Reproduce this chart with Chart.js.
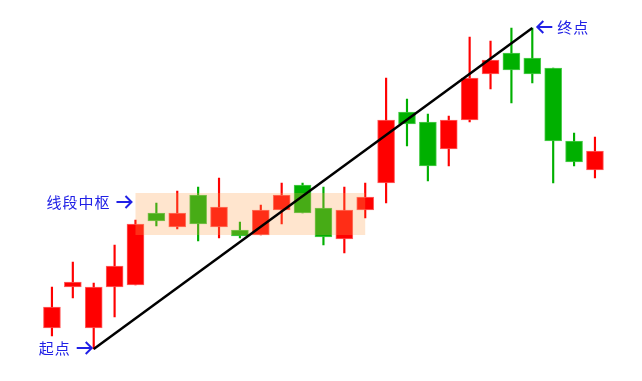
<!DOCTYPE html>
<html>
<head>
<meta charset="utf-8">
<script src="https://cdn.jsdelivr.net/npm/chart.js@4"></script>
<style>
  html, body { margin: 0; padding: 0; background: #fff; }
  canvas { display: block; }
</style>
</head>
<body>
<canvas id="kline" width="642" height="381"></canvas>
<script>
// K-line values (arbitrary price units)
const opens  = [7.2, 11.3, 7.2, 11.3, 11.5, 18.7, 17.3, 20.5, 17.3, 17.0, 16.5, 19.0, 21.5, 19.2, 16.1, 19.0, 21.7, 28.8, 27.8, 25.1, 28.0, 32.6, 34.7, 34.2, 33.2, 25.9, 23.0];
const closes = [9.3, 11.8, 11.3, 13.4, 17.6, 17.9, 18.7, 17.6, 19.3, 16.4, 19.0, 20.5, 18.7, 16.3, 19.0, 20.3, 28.0, 27.6, 23.4, 28.0, 32.2, 34.0, 33.0, 32.6, 25.9, 23.8, 24.9];
const highs  = [11.3, 13.8, 11.7, 15.5, 18.0, 19.7, 20.9, 21.3, 22.2, 17.8, 19.5, 21.7, 21.7, 21.3, 21.3, 21.7, 32.2, 30.1, 28.6, 28.4, 36.3, 35.9, 37.2, 37.2, 33.2, 26.7, 26.3];
const lows   = [6.4, 10.2, 5.1, 8.3, 11.5, 17.4, 17.1, 15.9, 16.2, 16.2, 16.5, 17.6, 18.7, 15.5, 14.7, 18.2, 19.7, 25.4, 21.9, 23.4, 27.8, 31.1, 29.7, 31.7, 21.7, 23.4, 22.2];
const labels = opens.map((_, i) => String(i + 1));

// segment: from the low of bar 3 to the high of bar 24
const segStart = 2;
const segEnd = 23;
// zhongshu band (bars 5..16)
const zsFrom = 4;
const zsTo = 15;
const zsHigh = 20.7;
const zsLow = 16.5;

const UP = "#ff0000";
const DOWN = "#00b000";
const colors = opens.map((o, i) => (closes[i] >= o ? UP : DOWN));
const edgeColors = opens.map((o, i) => (closes[i] >= o ? "rgba(255,80,80,0.9)" : "rgba(60,200,60,0.9)"));

const segLine = labels.map(() => null);
segLine[segStart] = lows[segStart];
segLine[segEnd] = highs[segEnd];

const TEXT_FONT = '15px "Noto Sans CJK SC", "Noto Sans", sans-serif';
const BLUE = "#2020e6";
const ARROW_W = 15;

function arrow(ctx, x, y, dir) {
  // x is the tip
  const tail = x - dir * ARROW_W;
  ctx.beginPath();
  ctx.moveTo(tail, y);
  ctx.lineTo(x - dir * 1, y);
  ctx.moveTo(x - dir * 6, y - 6);
  ctx.lineTo(x, y);
  ctx.lineTo(x - dir * 6, y + 6);
  ctx.stroke();
}

function label(ctx, text, x, y, side) {
  ctx.font = TEXT_FONT;
  ctx.letterSpacing = "1px";
  if (side === "left") {
    arrow(ctx, x, y, 1);
    ctx.textAlign = "right";
    ctx.fillText(text, x - ARROW_W - 6, y);
  } else {
    arrow(ctx, x, y, -1);
    ctx.textAlign = "left";
    ctx.fillText(text, x + ARROW_W + 5, y);
  }
  ctx.letterSpacing = "0px";
}

const overlay = {
  id: "overlay",
  beforeDatasetDraw(chart, args) {
    if (args.index !== 2) return;
    const { ctx, scales } = chart;
    const x1 = scales.x.getPixelForValue(zsFrom);
    const x2 = scales.x.getPixelForValue(zsTo);
    const y1 = scales.y.getPixelForValue(zsHigh);
    const y2 = scales.y.getPixelForValue(zsLow);
    ctx.save();
    ctx.fillStyle = "rgba(255,160,80,0.28)";
    ctx.fillRect(x1, y1, x2 - x1, y2 - y1);
    ctx.restore();
  },
  afterDatasetsDraw(chart) {
    const { ctx, scales } = chart;
    ctx.save();
    ctx.fillStyle = BLUE;
    ctx.strokeStyle = BLUE;
    ctx.lineWidth = 2;
    ctx.lineCap = "butt";
    ctx.lineJoin = "miter";
    ctx.textBaseline = "middle";

    const sx = scales.x.getPixelForValue(segStart);
    const sy = scales.y.getPixelForValue(lows[segStart]);
    label(ctx, "起点", sx - 2, sy - 1, "left");

    const zx = scales.x.getPixelForValue(zsFrom);
    const zy = scales.y.getPixelForValue(zsHigh);
    label(ctx, "线段中枢", zx - 4, zy + 9, "left");

    const ex = scales.x.getPixelForValue(segEnd);
    const ey = scales.y.getPixelForValue(highs[segEnd]);
    label(ctx, "终点", ex + 5, ey - 1, "right");
    ctx.restore();
  },
};

new Chart(document.getElementById("kline"), {
  type: "bar",
  data: {
    labels: labels,
    datasets: [
      {
        label: "wick",
        data: lows.map((l, i) => [l, highs[i]]),
        backgroundColor: colors,
        barThickness: 1.5,
        grouped: false,
        order: 2,
      },
      {
        label: "body",
        data: opens.map((o, i) => [o, closes[i]]),
        backgroundColor: colors,
        borderColor: edgeColors,
        borderWidth: 1,
        borderSkipped: false,
        barThickness: 17,
        grouped: false,
        order: 1,
      },
      {
        type: "line",
        label: "segment",
        data: segLine,
        borderColor: "#000",
        borderWidth: 2.5,
        pointRadius: 0,
        spanGaps: true,
        order: 0,
      },
    ],
  },
  options: {
    responsive: false,
    animation: false,
    layout: { padding: { left: 41.5, right: 36.6, top: 0, bottom: 0 } },
    plugins: {
      legend: { display: false },
      tooltip: { enabled: false },
    },
    scales: {
      x: { display: false, offset: true },
      y: { display: false, min: 1.9, max: 40 },
    },
  },
  plugins: [overlay],
});
</script>
</body>
</html>
